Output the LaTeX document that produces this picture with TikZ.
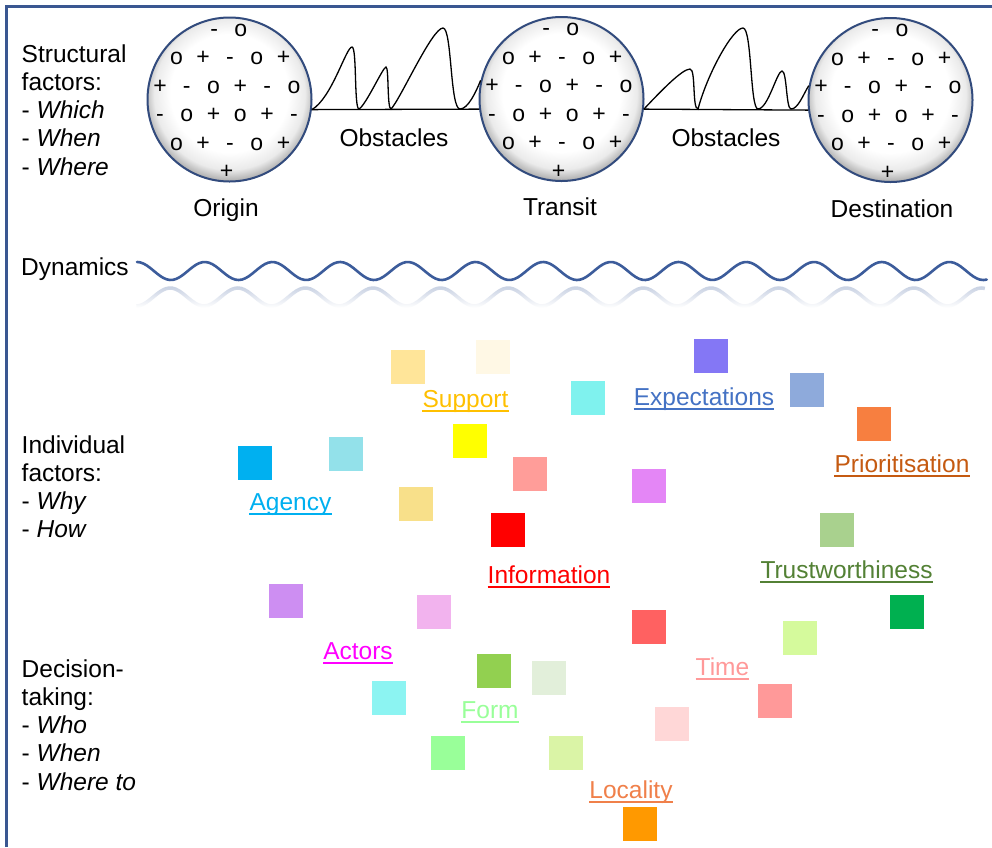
\documentclass[tikz,border=0pt]{standalone}
\usepackage{fontspec}
\setmainfont{Liberation Sans}
\usetikzlibrary{fadings}
\definecolor{frameblue}{RGB}{58,87,145}
\definecolor{ballblue}{RGB}{50,75,125}
\definecolor{waveblue}{RGB}{60,92,155}
\pgfdeclareradialshading{ballshade}{\pgfpoint{0bp}{3bp}}{color(0bp)=(white); color(18bp)=(white); color(23bp)=(black!8); color(26bp)=(black!30); color(50bp)=(black!30)}
\tikzfading[name=reflfade, top color=transparent!30, bottom color=transparent!100]
\newcommand\cc[1]{\makebox[26.8pt]{#1}}
\newcommand\drawbubble[3]{%
  \node[bubble] (#1) at (#2,#3) {};
  \node[symrow] (#1-r1) at (#2-2,#3-63.5) {\cc{-}\cc{o}};
  \node[symrow] (#1-r2) at (#2+0.5,#3-35) {\cc{o}\cc{+}\cc{-}\cc{o}\cc{+}};
  \node[symrow] (#1-r3) at (#2-2.5,#3-6.5) {\cc{+}\cc{-}\cc{o}\cc{+}\cc{-}\cc{o}};
  \node[symrow] (#1-r4) at (#2-2.5,#3+22) {\cc{-}\cc{o}\cc{+}\cc{o}\cc{+}\cc{-}};
  \node[symrow] (#1-r5) at (#2+0.5,#3+50.5) {\cc{o}\cc{+}\cc{-}\cc{o}\cc{+}};
  \node[symrow] (#1-r6) at (#2-3,#3+79) {\cc{+}};
}
\begin{document}
\begin{tikzpicture}[x=1pt,y=-1pt,
  txt/.style={font=\fontsize{24.5}{28.5}\selectfont, inner sep=0pt, anchor=base west},
  clab/.style={font=\fontsize{24.5}{28.5}\selectfont, inner sep=0pt, anchor=base},
  symrow/.style={font=\fontsize{23}{28}\selectfont, inner sep=0pt, anchor=base},
  bubble/.style={circle, minimum size=164pt, inner sep=0pt, draw=ballblue, line width=2pt, shade, shading=ballshade},
  lbl/.style={font=\fontsize{24.5}{28.5}\selectfont, inner sep=0pt, anchor=base, text=lc},
  ul/.style={draw=lc, line width=2.2pt},
  obst/.style={line width=1.3pt, draw=black},
  frame/.style={draw=frameblue, line width=3pt},
  wave/.style={draw=waveblue, line width=2.6pt, line cap=round}]
\useasboundingbox (0,0) rectangle (992,847);
\fill[white] (0,0) rectangle (992,847);
\draw[frame] (6,847) -- (6,6) -- (992,6);

% left texts
\node[txt] (sf1) at (21.5,62) {Structural};
\node[txt] (sf2) at (21.5,90.3) {factors:};
\node[txt] (sf3) at (21.5,118.6) {- \textit{Which}};
\node[txt] (sf4) at (21.5,146.9) {- \textit{When}};
\node[txt] (sf5) at (21.5,175.2) {- \textit{Where}};
\node[txt] (dyn) at (21,275) {Dynamics};
\node[txt] (if1) at (21.5,453) {Individual};
\node[txt] (if2) at (21.5,481.3) {factors:};
\node[txt] (if3) at (21.5,509.6) {- \textit{Why}};
\node[txt] (if4) at (21.5,537.9) {- \textit{How}};
\node[txt] (dt1) at (21.5,677) {Decision-};
\node[txt] (dt2) at (21.5,705.3) {taking:};
\node[txt] (dt3) at (21.5,733.6) {- \textit{Who}};
\node[txt] (dt4) at (21.5,761.9) {- \textit{When}};
\node[txt] (dt5) at (21.5,790.2) {- \textit{Where to}};

% bubbles
\drawbubble{origin}{229.5}{99.5}
\drawbubble{transit}{561.5}{99}
\drawbubble{destination}{890.5}{100}
\node[clab] (lorigin) at (226,216) {Origin};
\node[clab] (ltransit) at (560,215) {Transit};
\node[clab] (ldest) at (892,217) {Destination};
\node[clab] (obs1) at (394,146) {Obstacles};
\node[clab] (obs2) at (726,146) {Obstacles};

% baselines and obstacle curves
\draw[obst] (origin.-7) -- (transit.187);
\draw[obst] (transit.-7) -- (destination.187);
\draw[obst] (origin.-7) .. controls (332,98) and (346,47) .. (352,47)
  .. controls (357,47) and (354,109) .. (359,109)
  .. controls (366,105) and (383,67) .. (386,67)
  .. controls (389,67) and (387,109) .. (391,109)
  .. controls (400,100) and (432,28) .. (443,28)
  .. controls (452,28) and (450,109) .. (460,109)
  .. controls (468,109) and (476,92) .. (transit.167);
\draw[obst] (transit.-7) .. controls (660,92) and (682,69) .. (690,69)
  .. controls (696,69) and (692,109) .. (698,109)
  .. controls (708,72) and (733,28) .. (743,28)
  .. controls (752,28) and (750,109) .. (758,109)
  .. controls (768,109) and (777,71) .. (782,71)
  .. controls (787,71) and (786,109) .. (791,109)
  .. controls (798,109) and (803,95) .. (destination.170);

% dynamics wave and its reflection
\draw[draw=waveblue!40, line width=3.5pt, path fading=reflfade]
  plot[domain=0:12.555, samples=260, smooth] ({137+67.7*\x},{297+9*cos(360*\x)});
\draw[wave] plot[domain=0:12.555, samples=260, smooth] ({137+67.7*\x},{271-9*cos(360*\x)});

% squares
\foreach \x/\y/\c in {391/350/FFE599, 476/340/FFF8E5, 571/381/7FF2EE, 453/424/FFFF00,
  329/437/93E1EA, 238/446/00B0F0, 513/457/FF9D99, 399/487/F8E08A, 491/513/FF0000,
  694/339/8477F5, 790/373/8EAADB, 857/407/F77F40, 632/469/E486F6, 820/513/A9D18E,
  890/595/00B050, 632/610/FF6161, 783/621/D5FA9C, 269/584/CD8EF2, 417/595/F2B3EE,
  477/654/92D050, 532/661/E2EFDA, 372/681/8CF4F2, 431/736/99FF99, 549/736/DAF4A6,
  623/807/FF9900, 758/684/FF9999, 655/707/FFD7D7}
{
  \definecolor{sqc}{HTML}{\c}
  \fill[sqc] (\x,\y) rectangle ++(33.5,33.5);
}

% labels
\foreach \n/\t/\c/\x/\y in {
  support/Support/FFC000/465.5/407.5,
  agency/Agency/00B0F0/290.5/510.5,
  expect/Expectations/4472C4/704/405.5,
  prio/Prioritisation/C55A11/902/472.5,
  trust/Trustworthiness/538135/846.5/578.5,
  info/Information/FF0000/549/583.5,
  actors/Actors/FF00FF/358/659.5,
  form/Form/99FF99/490/718.5,
  time/Time/FF9999/722.5/675.5,
  locality/Locality/F0804A/631/798.5}
{
  \definecolor{lc}{HTML}{\c}
  \node[lbl] (\n) at (\x,\y) {\t};
  \draw[ul] ([yshift=-3.5pt]\n.base west) -- ([yshift=-3.5pt]\n.base east);
}
\end{tikzpicture}
\end{document}
